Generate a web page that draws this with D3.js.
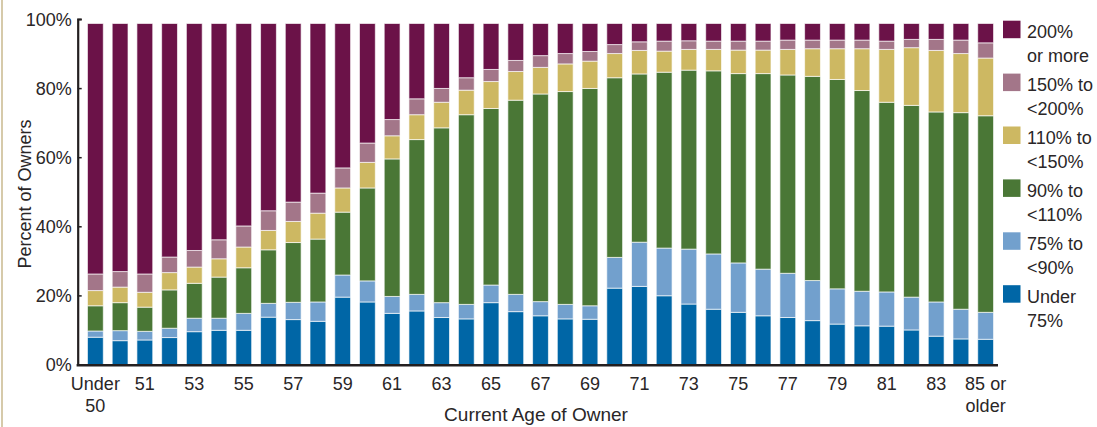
<!DOCTYPE html>
<html>
<head>
<meta charset="utf-8">
<title>Percent of Owners by Current Age</title>
<style>
body { margin: 0; background: #fff; }
text { font-family: "Liberation Sans", Arial, sans-serif; fill: #2a2627; }
.axis path, .axis line { stroke: #231f20; }
.seg { stroke: #fff; stroke-opacity: 0.65; stroke-width: 1; }
</style>
</head>
<body>
<script src="https://d3js.org/d3.v7.min.js"></script>
<script>

// categories (ages) and the label shown under every other bar
const ages = ["Under 50", "50", "51", "52", "53", "54", "55", "56", "57", "58", "59",
  "60", "61", "62", "63", "64", "65", "66", "67", "68", "69", "70", "71", "72", "73",
  "74", "75", "76", "77", "78", "79", "80", "81", "82", "83", "84", "85 or older"];
const tickLabels = {
  "Under 50": ["Under", "50"], "51": ["51"], "53": ["53"], "55": ["55"], "57": ["57"],
  "59": ["59"], "61": ["61"], "63": ["63"], "65": ["65"], "67": ["67"], "69": ["69"],
  "71": ["71"], "73": ["73"], "75": ["75"], "77": ["77"], "79": ["79"], "81": ["81"],
  "83": ["83"], "85 or older": ["85 or", "older"]
};
const yTicks = [0, 20, 40, 60, 80, 100];

// series, percent of owners
const under75 = [7.9, 6.9, 7.1, 7.8, 9.5, 9.9, 9.9, 13.7, 13.0, 12.5, 19.5, 18.1, 14.8, 15.5, 13.6, 13.2, 17.9, 15.3, 14.1, 13.2, 13.1, 22.1, 22.6, 19.9, 17.5, 16.0, 15.1, 14.1, 13.6, 12.7, 11.7, 11.2, 11.1, 10.0, 8.2, 7.4, 7.3];
const p75to90 = [1.8, 2.9, 2.5, 2.7, 3.9, 3.5, 4.9, 4.0, 5.0, 5.6, 6.4, 6.1, 4.9, 4.8, 4.3, 4.2, 5.1, 5.0, 4.1, 4.2, 3.9, 8.9, 12.8, 13.8, 15.9, 16.0, 14.3, 13.5, 12.8, 11.6, 10.2, 10.0, 9.9, 9.5, 9.9, 8.6, 7.8];
const p90to110 = [7.3, 8.1, 7.0, 11.1, 10.1, 11.9, 13.2, 15.5, 17.3, 18.2, 18.2, 26.9, 39.8, 44.8, 50.6, 54.9, 51.1, 56.2, 60.1, 61.6, 62.9, 52.0, 48.7, 50.9, 51.8, 53.0, 54.8, 56.6, 57.4, 59.1, 60.6, 58.1, 54.9, 55.5, 55.0, 56.9, 56.9];
const p110to150 = [4.4, 4.5, 4.3, 5.0, 4.7, 5.3, 6.0, 5.6, 6.1, 7.5, 7.0, 7.4, 6.7, 7.2, 7.4, 7.1, 7.8, 8.3, 7.7, 8.0, 7.9, 7.0, 6.8, 6.1, 6.0, 6.2, 6.8, 6.8, 7.4, 8.0, 8.9, 12.1, 15.3, 16.7, 17.8, 17.1, 16.7];
const p150to200 = [4.8, 4.5, 5.3, 4.5, 4.8, 5.5, 6.1, 5.7, 5.6, 5.8, 5.8, 5.6, 4.7, 4.6, 4.0, 3.6, 3.5, 3.2, 3.4, 3.0, 2.8, 2.6, 2.5, 2.9, 2.5, 2.4, 2.6, 2.6, 2.7, 2.5, 2.5, 2.5, 2.4, 2.4, 3.2, 3.9, 4.4];
const p200plus = [72.5, 71.8, 72.5, 67.6, 65.7, 62.6, 58.6, 54.2, 51.7, 49.1, 41.8, 34.6, 27.8, 21.8, 18.8, 15.7, 13.3, 10.7, 9.3, 8.7, 8.1, 6.1, 5.3, 5.1, 5.0, 5.1, 5.1, 5.1, 4.8, 4.8, 4.8, 4.8, 5.1, 4.6, 4.6, 4.8, 5.6];

const keys = ["under75", "p75to90", "p90to110", "p110to150", "p150to200", "p200plus"];
const legendLabels = {
  p200plus: ["200%", "or more"], p150to200: ["150% to", "<200%"], p110to150: ["110% to", "<150%"],
  p90to110: ["90% to", "<110%"], p75to90: ["75% to", "<90%"], under75: ["Under", "75%"]
};
const colors = {
  under75: "#0066a6", p75to90: "#72a0cd", p90to110: "#4a7736",
  p110to150: "#cdb862", p150to200: "#a37689", p200plus: "#6b1248"
};

const series = { under75, p75to90, p90to110, p110to150, p150to200, p200plus };
const rows = ages.map((a, i) => {
  const r = { age: a };
  keys.forEach(k => { r[k] = series[k][i]; });
  return r;
});

const width = 1097, height = 427;
const svg = d3.select("body").append("svg")
    .attr("width", width)
    .attr("height", height);

// thin frame line at the left edge
svg.append("line")
    .attr("x1", 2).attr("x2", 2).attr("y1", 0).attr("y2", height)
    .attr("stroke", "#c8b98e").attr("stroke-width", 1.5);

const x = d3.scaleBand()
    .domain(ages)
    .range([83, 998])
    .paddingInner(0.36)
    .paddingOuter(0.18);

const y = d3.scaleLinear()
    .domain([0, 100])
    .range([364.5, 19]);

const stacked = d3.stack().keys(keys)(rows);

svg.append("g")
  .selectAll("g")
  .data(stacked)
  .enter().append("g")
    .attr("fill", d => colors[d.key])
  .selectAll("rect")
  .data(d => d)
  .enter().append("rect")
    .attr("class", "seg")
    .attr("x", d => x(d.data.age))
    .attr("width", x.bandwidth())
    .attr("y", d => y(d[1]))
    .attr("height", d => y(d[0]) - y(d[1]));

// y axis
const yAxis = svg.append("g")
    .attr("class", "axis")
    .attr("transform", "translate(77.7,0)")
    .call(d3.axisLeft(y).tickValues(yTicks).tickFormat(d => d + "%").tickSize(-4).tickPadding(6));
yAxis.select(".domain").attr("stroke-width", 2.2);
yAxis.selectAll("line").attr("stroke-width", 1.5);
yAxis.selectAll("text").style("font-size", "18px").attr("dy", "0.36em");

// x axis line
svg.append("line")
    .attr("x1", 76.6).attr("x2", 998)
    .attr("y1", y(0) + 0.8).attr("y2", y(0) + 0.8)
    .attr("stroke", "#231f20").attr("stroke-width", 2.6);

// x tick labels
const xl = svg.append("g")
  .selectAll("text")
  .data(ages.filter(a => tickLabels[a]))
  .enter().append("text")
    .attr("text-anchor", "middle")
    .style("font-size", "18px")
    .attr("x", d => x(d) + x.bandwidth() / 2)
    .attr("y", 390);
xl.selectAll("tspan")
  .data(d => tickLabels[d].map(t => ({ t, a: d })))
  .enter().append("tspan")
    .attr("x", d => x(d.a) + x.bandwidth() / 2)
    .attr("dy", (d, i) => i ? 21.5 : 0)
    .text(d => d.t);

// axis titles
svg.append("text")
    .attr("x", 536)
    .attr("y", 421)
    .attr("text-anchor", "middle")
    .style("font-size", "19px")
    .text("Current Age of Owner");

svg.append("text")
    .attr("transform", "translate(31,194) rotate(-90)")
    .attr("text-anchor", "middle")
    .style("font-size", "18px")
    .text("Percent of Owners");

// legend
const legend = svg.append("g")
  .selectAll("g")
  .data(keys.slice().reverse())
  .enter().append("g")
    .attr("transform", (d, i) => "translate(1003," + (20.7 + i * 52.9) + ")");
legend.append("rect")
    .attr("width", 17.5).attr("height", 17.5)
    .attr("fill", d => colors[d]);
legend.append("text")
    .style("font-size", "18px")
    .selectAll("tspan")
    .data(d => legendLabels[d])
    .enter().append("tspan")
      .attr("x", 24)
      .attr("y", (d, i) => 17.5 + i * 24)
      .text(d => d);

</script>
</body>
</html>
